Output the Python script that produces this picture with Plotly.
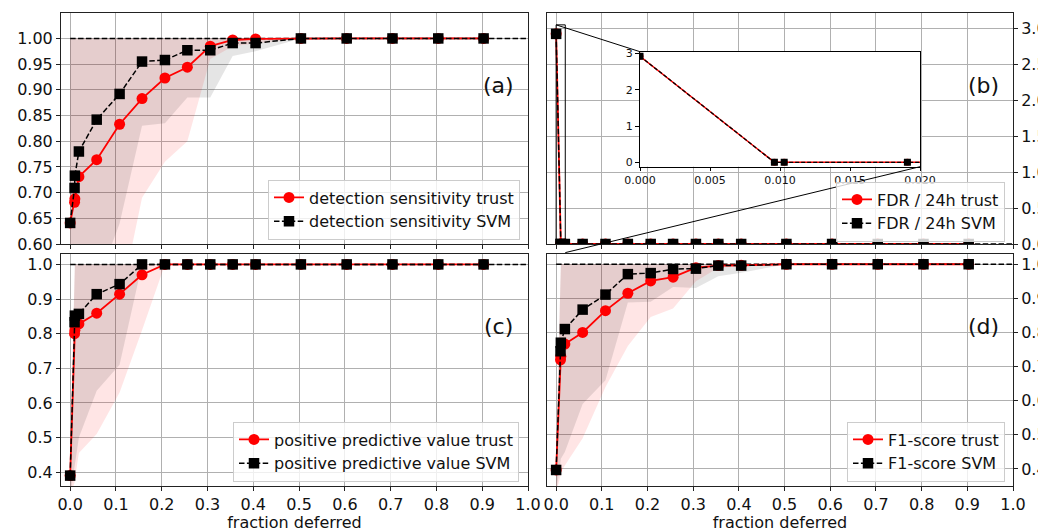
import plotly.graph_objects as go

# ---------------- data ----------------
frac_deferred = [0.0, 0.0096, 0.0103, 0.0191, 0.058, 0.108, 0.157, 0.207, 0.256,
                 0.306, 0.355, 0.405, 0.504, 0.604, 0.704, 0.804, 0.903]
ideal_x = [0.0, 1.0]

# (a) detection sensitivity
sens_trust = [0.641, 0.681, 0.688, 0.731, 0.764, 0.833, 0.883, 0.923, 0.944, 0.985, 0.997, 0.999, 1.0, 1.0, 1.0, 1.0, 1.0]
sens_svm = [0.641, 0.709, 0.733, 0.780, 0.842, 0.892, 0.955, 0.958, 0.977, 0.977, 0.991, 0.991, 1.0, 1.0, 1.0, 1.0, 1.0]
sens_trust_lo = [0.30, 0.32, 0.33, 0.35, 0.40, 0.48, 0.69, 0.76, 0.80, 0.96, 0.985, 0.99, 1.0, 1.0, 1.0, 1.0, 1.0]
sens_trust_hi = [1.0] * 17
sens_svm_lo = [0.35, 0.40, 0.41, 0.45, 0.52, 0.64, 0.83, 0.835, 0.885, 0.885, 0.966, 0.975, 1.0, 1.0, 1.0, 1.0, 1.0]
sens_svm_hi = [1.0] * 17

# (b) FDR / 24h
fdr_trust = [2.92, 0.0, 0.0, 0.0, 0.0, 0.0, 0.0, 0.0, 0.0, 0.0, 0.0, 0.0, 0.0, 0.0, 0.0, 0.0, 0.0]
fdr_svm = [2.92, 0.0, 0.0, 0.0, 0.0, 0.0, 0.0, 0.0, 0.0, 0.0, 0.0, 0.0, 0.0, 0.0, 0.0, 0.0, 0.0]

# (c) positive predictive value
ppv_trust = [0.39, 0.80, 0.81, 0.828, 0.859, 0.914, 0.970, 1.0, 1.0, 1.0, 1.0, 1.0, 1.0, 1.0, 1.0, 1.0, 1.0]
ppv_svm = [0.39, 0.833, 0.852, 0.857, 0.914, 0.943, 1.0, 1.0, 1.0, 1.0, 1.0, 1.0, 1.0, 1.0, 1.0, 1.0, 1.0]
ppv_trust_lo = [0.33, 0.37, 0.38, 0.455, 0.51, 0.63, 0.81, 1.0, 1.0, 1.0, 1.0, 1.0, 1.0, 1.0, 1.0, 1.0, 1.0]
ppv_trust_hi = [0.45] + [1.0] * 16
ppv_svm_lo = [0.33, 0.42, 0.43, 0.50, 0.635, 0.71, 1.0, 1.0, 1.0, 1.0, 1.0, 1.0, 1.0, 1.0, 1.0, 1.0, 1.0]
ppv_svm_hi = [0.45] + [1.0] * 16

# (d) F1-score
f1_trust = [0.397, 0.72, 0.73, 0.766, 0.80, 0.864, 0.915, 0.951, 0.962, 0.99, 0.996, 0.997, 1.0, 1.0, 1.0, 1.0, 1.0]
f1_svm = [0.397, 0.745, 0.77, 0.81, 0.867, 0.911, 0.971, 0.974, 0.986, 0.987, 0.996, 0.996, 1.0, 1.0, 1.0, 1.0, 1.0]
f1_trust_lo = [0.33, 0.38, 0.39, 0.41, 0.49, 0.64, 0.76, 0.845, 0.87, 0.95, 0.99, 0.995, 1.0, 1.0, 1.0, 1.0, 1.0]
f1_trust_hi = [0.45] + [1.0] * 16
f1_svm_lo = [0.33, 0.42, 0.43, 0.45, 0.59, 0.66, 0.888, 0.89, 0.933, 0.93, 0.965, 0.975, 1.0, 1.0, 1.0, 1.0, 1.0]
f1_svm_hi = [0.45] + [1.0] * 16

panel_labels = ["(a)", "(b)", "(c)", "(d)"]
metric_names = ["detection sensitivity", "FDR / 24h", "positive predictive value", "F1-score"]

# ---------------- layout geometry ----------------
W, H = 1038, 532
ML, MR, MT, MB = 61, 25, 13, 46
PW, PH = W - ML - MR, H - MT - MB


def px_x(p):
    return (p - ML) / PW


def px_y(p):
    return (H - MB - p) / PH


col1 = [0.0, px_x(528)]
col2 = [px_x(547), 1.0]
row1 = [px_y(244), 1.0]
row2 = [0.0, px_y(254)]
inset_dx = [px_x(640), px_x(920)]
inset_dy = [px_y(166.7), px_y(51.7)]

XR = [-0.02, 1.0]
YR = {1: [0.6, 1.0495], 2: [0.0, 3.21], 3: [0.36, 1.03], 4: [0.35, 1.03]}
INSET_XR = [0.0, 0.02]
INSET_YR = [-0.12, 3.045]

FONT = "DejaVu Sans"
GRID = "#b0b0b0"
SPINE = "#222222"
DASH = "5.5px,2.4px"

fig = go.Figure()

panels = [
    (1, sens_trust, sens_svm, (sens_trust_lo, sens_trust_hi), (sens_svm_lo, sens_svm_hi), 1.0),
    (2, fdr_trust, fdr_svm, None, None, 0.0),
    (3, ppv_trust, ppv_svm, (ppv_trust_lo, ppv_trust_hi), (ppv_svm_lo, ppv_svm_hi), 1.0),
    (4, f1_trust, f1_svm, (f1_trust_lo, f1_trust_hi), (f1_svm_lo, f1_svm_hi), 1.0),
]

for idx, trust, svm, tband, sband, ideal in panels:
    xa = "x" if idx == 1 else f"x{idx}"
    ya = "y" if idx == 1 else f"y{idx}"
    leg = "legend" if idx == 1 else f"legend{idx}"
    name = metric_names[idx - 1]
    for band, col in ((tband, "rgba(255,0,0,0.1)"), (sband, "rgba(0,0,0,0.1)")):
        if band is None:
            continue
        lo, hi = band
        fig.add_trace(go.Scatter(
            x=frac_deferred + frac_deferred[::-1], y=hi + lo[::-1],
            fill="toself", fillcolor=col, mode="lines", line=dict(width=0),
            hoverinfo="skip", showlegend=False, xaxis=xa, yaxis=ya))
    fig.add_trace(go.Scatter(
        x=ideal_x, y=[ideal, ideal], mode="lines",
        line=dict(color="black", width=1.5, dash=DASH),
        showlegend=False, hoverinfo="skip", xaxis=xa, yaxis=ya))
    fig.add_trace(go.Scatter(
        x=frac_deferred, y=trust, mode="lines+markers", name=f"{name} trust",
        line=dict(color="red", width=1.8),
        marker=dict(symbol="circle", size=11, color="red"),
        xaxis=xa, yaxis=ya, legend=leg))
    fig.add_trace(go.Scatter(
        x=frac_deferred, y=svm, mode="lines+markers", name=f"{name} SVM",
        line=dict(color="black", width=1.5, dash=DASH),
        marker=dict(symbol="square", size=10.5, color="black"),
        xaxis=xa, yaxis=ya, legend=leg))

# inset traces (zoom of panel b)
fig.add_trace(go.Scatter(
    x=frac_deferred, y=fdr_trust, mode="lines+markers",
    line=dict(color="red", width=1.5), marker=dict(symbol="circle", size=7, color="red"),
    showlegend=False, xaxis="x5", yaxis="y5"))
fig.add_trace(go.Scatter(
    x=frac_deferred, y=fdr_svm, mode="lines+markers",
    line=dict(color="black", width=1.3, dash="4px,2px"),
    marker=dict(symbol="square", size=7, color="black"),
    showlegend=False, xaxis="x5", yaxis="y5"))

axis_common = dict(
    showgrid=True, gridcolor=GRID, gridwidth=1, zeroline=False,
    showline=True, linecolor=SPINE, linewidth=1, mirror=True,
    ticks="outside", ticklen=4, tickwidth=1, tickcolor=SPINE,
    tickfont=dict(family=FONT, size=16, color="#111"), automargin=False,
)

layout = dict(
    width=W, height=H,
    margin=dict(l=ML, r=MR, t=MT, b=MB, pad=0),
    paper_bgcolor="white", plot_bgcolor="white",
    font=dict(family=FONT, size=16, color="#111"),
    xaxis=dict(domain=col1, anchor="y", range=XR, dtick=0.1, tick0=0,
               showticklabels=False, **axis_common),
    xaxis2=dict(domain=col2, anchor="y2", range=XR, dtick=0.1, tick0=0,
                showticklabels=False, **axis_common),
    xaxis3=dict(domain=col1, anchor="y3", range=XR, dtick=0.1, tick0=0, tickformat=".1f",
                title=dict(text="fraction deferred", standoff=3, font=dict(family=FONT, size=16)),
                **axis_common),
    xaxis4=dict(domain=col2, anchor="y4", range=XR, dtick=0.1, tick0=0, tickformat=".1f",
                title=dict(text="fraction deferred", standoff=3, font=dict(family=FONT, size=16)),
                **axis_common),
    yaxis=dict(domain=row1, anchor="x", range=YR[1], dtick=0.05, tick0=0, tickformat=".2f",
               **axis_common),
    yaxis2=dict(domain=row1, anchor="x2", range=YR[2], dtick=0.5, tick0=0, tickformat=".1f",
                side="right", **axis_common),
    yaxis3=dict(domain=row2, anchor="x3", range=YR[3], dtick=0.1, tick0=0, tickformat=".1f",
                **axis_common),
    yaxis4=dict(domain=row2, anchor="x4", range=YR[4], dtick=0.1, tick0=0, tickformat=".1f",
                side="right", **axis_common),
    xaxis5=dict(domain=inset_dx, anchor="y5", range=INSET_XR, dtick=0.005, tick0=0,
                tickformat=".3f", showgrid=False, zeroline=False, showline=True,
                linecolor="black", linewidth=1, mirror=True, ticks="outside", ticklen=3,
                tickcolor="black", tickfont=dict(family=FONT, size=11, color="#111"),
                automargin=False),
    yaxis5=dict(domain=inset_dy, anchor="x5", range=INSET_YR, dtick=1, tick0=0,
                showgrid=False, zeroline=False, showline=True,
                linecolor="black", linewidth=1, mirror=True, ticks="outside", ticklen=4,
                tickcolor="black", tickfont=dict(family=FONT, size=11, color="#111"),
                automargin=False),
    showlegend=True,
)

legend_pos = {1: (520, 239.5), 2: (1005, 241.5), 3: (519, 481.5), 4: (1005, 481.5)}
for idx, (lx, ly) in legend_pos.items():
    key = "legend" if idx == 1 else f"legend{idx}"
    layout[key] = dict(
        x=px_x(lx), y=px_y(ly), xanchor="right", yanchor="bottom",
        bgcolor="rgba(255,255,255,0.8)", bordercolor="#cccccc", borderwidth=1,
        font=dict(family=FONT, size=16, color="#111"), tracegroupgap=0,
        traceorder="normal")

fig.update_layout(**layout)

# panel labels
for idx, lab in enumerate(panel_labels, start=1):
    sfx = "" if idx == 1 else str(idx)
    fig.add_annotation(text=lab, xref=f"x{sfx} domain", yref=f"y{sfx} domain",
                       x=0.936, y=0.686, showarrow=False, xanchor="center", yanchor="middle",
                       font=dict(family=FONT, size=22, color="#111"))


# inset marker: rectangle on panel b and connector lines
def dx(v, rng, dom):
    return dom[0] + (v - rng[0]) / (rng[1] - rng[0]) * (dom[1] - dom[0])


fig.add_shape(type="rect", xref="x2", yref="y2",
              x0=INSET_XR[0], x1=INSET_XR[1], y0=INSET_YR[0], y1=INSET_YR[1],
              line=dict(color="black", width=1), layer="above")
fig.add_shape(type="line", xref="paper", yref="paper",
              x0=dx(INSET_XR[0], XR, col2), y0=dx(INSET_YR[1], YR[2], row1),
              x1=inset_dx[0], y1=inset_dy[1],
              line=dict(color="black", width=1), layer="above")
fig.add_shape(type="line", xref="paper", yref="paper",
              x0=dx(INSET_XR[1], XR, col2), y0=dx(INSET_YR[0], YR[2], row1),
              x1=inset_dx[1], y1=inset_dy[0],
              line=dict(color="black", width=1), layer="above")

fig.write_html(
    "out.html",
    config={"displayModeBar": False},
    post_script="document.body.style.margin='0';document.body.style.overflow='hidden';",
)
